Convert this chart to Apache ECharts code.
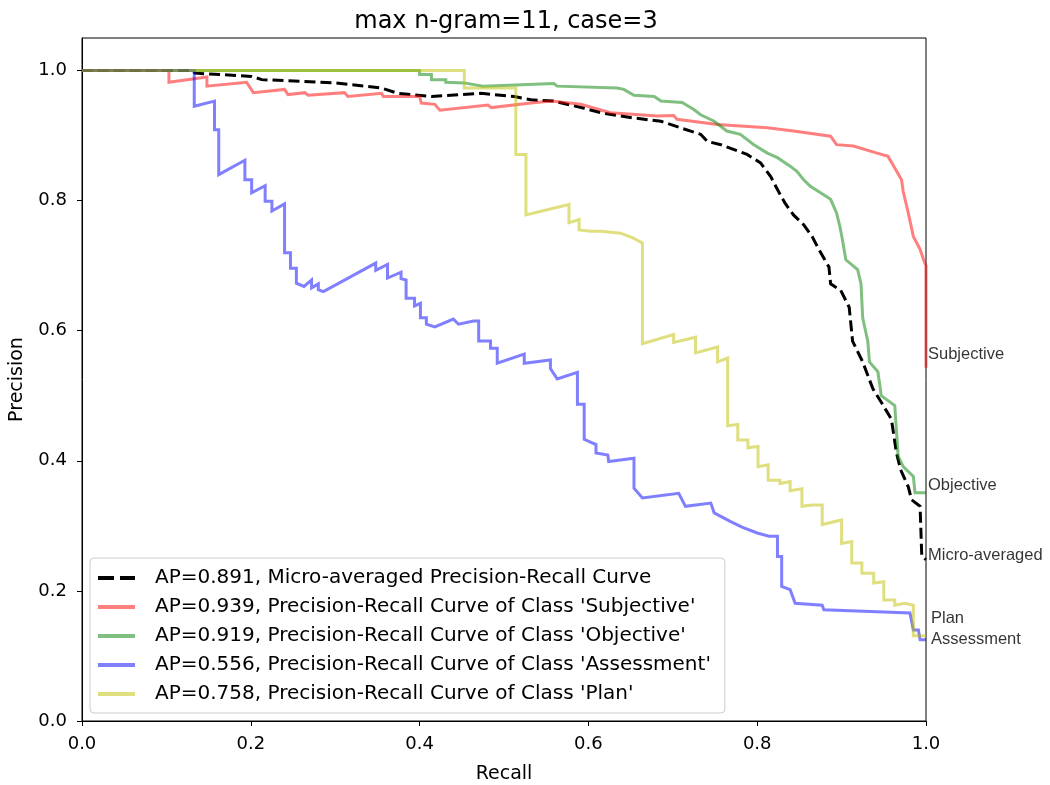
<!DOCTYPE html>
<html>
<head>
<meta charset="utf-8">
<title>max n-gram=11, case=3</title>
<script src="https://cdn.jsdelivr.net/npm/echarts@6/dist/echarts.min.js"></script>
<style>
  html, body { margin: 0; padding: 0; background: #fff; }
  #chart { width: 1050px; height: 785px; }
</style>
</head>
<body>
<div id="chart"></div>
<script>
// Precision-recall curves per class, plus the micro-averaged curve.
const titleText = 'max n-gram=11, case=3';
const tickValues = [0, 0.2, 0.4, 0.6, 0.8, 1.0];

const microRecall = [0, 0.130, 0.134, 0.201, 0.213, 0.299, 0.355, 0.374, 0.414, 0.473, 0.512, 0.532, 0.559, 0.595, 0.615, 0.654, 0.686, 0.709, 0.733, 0.741, 0.757, 0.788, 0.804, 0.816, 0.824, 0.833, 0.843, 0.855, 0.865, 0.873, 0.885, 0.887, 0.899, 0.909, 0.913, 0.925, 0.937, 0.947, 0.959, 0.965, 0.970, 0.979, 0.983, 0.993, 0.995, 1.0];
const microPrecision = [1.0, 1.0, 0.996, 0.991, 0.986, 0.981, 0.973, 0.965, 0.960, 0.965, 0.960, 0.955, 0.953, 0.942, 0.935, 0.927, 0.922, 0.912, 0.902, 0.891, 0.886, 0.871, 0.858, 0.837, 0.817, 0.796, 0.778, 0.763, 0.745, 0.725, 0.698, 0.672, 0.662, 0.636, 0.584, 0.552, 0.511, 0.490, 0.464, 0.412, 0.386, 0.360, 0.340, 0.330, 0.253, 0.248];

const subjectiveRecall = [0, 0.103, 0.103, 0.148, 0.148, 0.195, 0.203, 0.240, 0.244, 0.264, 0.268, 0.311, 0.315, 0.355, 0.357, 0.400, 0.402, 0.418, 0.424, 0.481, 0.485, 0.532, 0.556, 0.591, 0.626, 0.682, 0.701, 0.705, 0.753, 0.812, 0.843, 0.887, 0.894, 0.914, 0.942, 0.955, 0.963, 0.971, 0.973, 0.979, 0.985, 0.993, 0.998, 1.0, 1.0];
const subjectivePrecision = [1.0, 1.0, 0.982, 0.990, 0.976, 0.982, 0.966, 0.971, 0.963, 0.966, 0.962, 0.966, 0.960, 0.965, 0.960, 0.960, 0.950, 0.948, 0.939, 0.947, 0.943, 0.950, 0.953, 0.948, 0.935, 0.930, 0.931, 0.925, 0.917, 0.912, 0.907, 0.899, 0.886, 0.884, 0.873, 0.868, 0.850, 0.832, 0.814, 0.781, 0.745, 0.725, 0.706, 0.700, 0.543];

const objectiveRecall = [0, 0.400, 0.400, 0.414, 0.414, 0.431, 0.431, 0.453, 0.475, 0.559, 0.563, 0.634, 0.642, 0.654, 0.678, 0.686, 0.711, 0.725, 0.733, 0.749, 0.764, 0.780, 0.796, 0.812, 0.824, 0.839, 0.847, 0.855, 0.863, 0.875, 0.887, 0.894, 0.898, 0.901, 0.905, 0.919, 0.923, 0.925, 0.931, 0.933, 0.943, 0.947, 0.963, 0.967, 0.973, 0.985, 0.987, 1.0];
const objectivePrecision = [1.0, 1.0, 0.994, 0.994, 0.986, 0.986, 0.982, 0.981, 0.976, 0.980, 0.976, 0.973, 0.971, 0.962, 0.960, 0.953, 0.951, 0.940, 0.932, 0.922, 0.907, 0.902, 0.886, 0.873, 0.866, 0.853, 0.845, 0.832, 0.822, 0.812, 0.802, 0.781, 0.760, 0.740, 0.709, 0.694, 0.672, 0.620, 0.584, 0.552, 0.537, 0.500, 0.485, 0.407, 0.391, 0.376, 0.351, 0.351];

const assessmentRecall = [0, 0.133, 0.133, 0.157, 0.157, 0.162, 0.162, 0.193, 0.193, 0.201, 0.201, 0.217, 0.217, 0.225, 0.225, 0.240, 0.240, 0.247, 0.247, 0.254, 0.254, 0.263, 0.272, 0.272, 0.280, 0.280, 0.286, 0.348, 0.348, 0.362, 0.362, 0.378, 0.378, 0.384, 0.384, 0.394, 0.394, 0.401, 0.401, 0.408, 0.408, 0.418, 0.440, 0.446, 0.464, 0.470, 0.470, 0.484, 0.484, 0.492, 0.492, 0.524, 0.524, 0.555, 0.555, 0.563, 0.587, 0.587, 0.595, 0.595, 0.609, 0.609, 0.623, 0.624, 0.654, 0.654, 0.664, 0.707, 0.715, 0.745, 0.749, 0.768, 0.782, 0.800, 0.814, 0.824, 0.824, 0.829, 0.829, 0.839, 0.845, 0.877, 0.879, 0.981, 0.985, 0.991, 0.993, 1.0];
const assessmentPrecision = [1.0, 1.0, 0.945, 0.953, 0.909, 0.909, 0.840, 0.862, 0.832, 0.832, 0.812, 0.823, 0.799, 0.799, 0.784, 0.795, 0.720, 0.720, 0.696, 0.696, 0.673, 0.668, 0.678, 0.666, 0.672, 0.663, 0.660, 0.704, 0.693, 0.702, 0.681, 0.690, 0.680, 0.678, 0.650, 0.650, 0.638, 0.642, 0.620, 0.620, 0.610, 0.606, 0.618, 0.610, 0.615, 0.615, 0.584, 0.584, 0.573, 0.573, 0.550, 0.564, 0.550, 0.555, 0.542, 0.526, 0.536, 0.487, 0.487, 0.433, 0.425, 0.412, 0.409, 0.399, 0.404, 0.358, 0.343, 0.350, 0.330, 0.335, 0.320, 0.307, 0.298, 0.289, 0.284, 0.284, 0.253, 0.253, 0.207, 0.202, 0.181, 0.178, 0.171, 0.166, 0.140, 0.140, 0.125, 0.125];

const planRecall = [0, 0.453, 0.453, 0.514, 0.514, 0.526, 0.526, 0.577, 0.577, 0.589, 0.589, 0.603, 0.615, 0.638, 0.652, 0.664, 0.664, 0.701, 0.701, 0.727, 0.727, 0.753, 0.753, 0.765, 0.765, 0.777, 0.777, 0.789, 0.789, 0.801, 0.801, 0.813, 0.813, 0.827, 0.827, 0.839, 0.839, 0.853, 0.853, 0.865, 0.877, 0.877, 0.900, 0.900, 0.912, 0.912, 0.924, 0.924, 0.938, 0.938, 0.950, 0.950, 0.963, 0.963, 0.975, 0.985, 0.985, 1.0];
const planPrecision = [1.0, 1.0, 0.973, 0.973, 0.871, 0.871, 0.778, 0.794, 0.766, 0.771, 0.755, 0.753, 0.753, 0.750, 0.743, 0.735, 0.580, 0.594, 0.582, 0.590, 0.566, 0.575, 0.552, 0.558, 0.454, 0.456, 0.432, 0.432, 0.420, 0.422, 0.391, 0.394, 0.370, 0.370, 0.365, 0.368, 0.354, 0.357, 0.330, 0.332, 0.332, 0.302, 0.309, 0.273, 0.276, 0.243, 0.243, 0.227, 0.227, 0.212, 0.214, 0.186, 0.186, 0.178, 0.181, 0.178, 0.131, 0.131];

const legendNames = [
  "AP=0.891, Micro-averaged Precision-Recall Curve",
  "AP=0.939, Precision-Recall Curve of Class 'Subjective'",
  "AP=0.919, Precision-Recall Curve of Class 'Objective'",
  "AP=0.556, Precision-Recall Curve of Class 'Assessment'",
  "AP=0.758, Precision-Recall Curve of Class 'Plan'"
];

// Class names written just outside the right edge of the plot.
const endLabelNames = ['Subjective', 'Objective', 'Micro-averaged', 'Plan', 'Assessment'];
const endLabelRecall = [1.0, 1.0, 1.0, 1.0, 1.0];
const endLabelPrecision = [0.563, 0.362, 0.254, 0.157, 0.125];
const endLabelShift = [2, 2, 2, 5, 5];

function zip(xs, ys) {
  return xs.map((x, i) => [x, ys[i]]);
}

const baseFont = 'DejaVu Sans';
// Legend handles: two short dashes for the dashed curve, a plain bar for the others.
const dashIcon = 'path://M0,0H16V4H0Z M22,0H37V4H22Z';
const barIcon = 'path://M0,0H37V4H0Z';

function curve(name, xs, ys, color, dashed) {
  return {
    name: name,
    type: 'line',
    data: zip(xs, ys),
    showSymbol: false,
    symbol: 'none',
    animation: false,
    silent: true,
    lineStyle: { color: color, width: 3, type: dashed ? [11, 5] : 'solid', cap: 'butt', join: 'miter' },
    itemStyle: { color: color }
  };
}

const chart = echarts.init(document.getElementById('chart'), null, { renderer: 'canvas' });

chart.setOption({
  backgroundColor: '#ffffff',
  animation: false,
  title: {
    text: titleText,
    left: 501,
    top: 5,
    textAlign: 'center',
    textStyle: { fontFamily: baseFont, fontSize: 24, fontWeight: 'normal', color: '#000' }
  },
  grid: {
    left: 82, right: 124, top: 38, bottom: 64,
    containLabel: false,
    outerBoundsMode: 'none',
    show: true, borderColor: '#000', borderWidth: 1, backgroundColor: 'transparent'
  },
  legend: {
    orient: 'vertical',
    left: 90,
    top: 558,
    data: legendNames.map((n, i) => ({ name: n, icon: i === 0 ? dashIcon : barIcon })),
    itemWidth: 37,
    itemHeight: 4,
    itemGap: 9,
    padding: [10, 14, 9, 8],
    backgroundColor: 'rgba(255,255,255,0.8)',
    borderColor: '#cccccc',
    borderWidth: 1,
    borderRadius: 4,
    selectedMode: false,
    textStyle: { fontFamily: baseFont, fontSize: 20, color: '#000', padding: [0, 0, 0, 15] }
  },
  xAxis: {
    type: 'value',
    min: 0, max: 1, interval: 0.2,
    name: 'Recall',
    nameLocation: 'middle',
    nameGap: 44,
    nameTextStyle: { fontFamily: baseFont, fontSize: 19, color: '#000' },
    axisLine: { show: true, lineStyle: { color: '#000', width: 1 } },
    axisTick: { show: true, inside: false, length: 5, lineStyle: { color: '#000' } },
    axisLabel: { fontFamily: baseFont, fontSize: 18, color: '#000', margin: 14, formatter: v => v.toFixed(1) },
    splitLine: { show: false }
  },
  yAxis: {
    type: 'value',
    min: 0, max: 1.05,
    name: 'Precision',
    nameLocation: 'middle',
    nameGap: 55,
    nameTextStyle: { fontFamily: baseFont, fontSize: 19, color: '#000' },
    axisLine: { show: true, lineStyle: { color: '#000', width: 1 } },
    axisTick: { show: true, inside: false, length: 5, customValues: tickValues, lineStyle: { color: '#000' } },
    axisLabel: { fontFamily: baseFont, fontSize: 18, color: '#000', margin: 15, customValues: tickValues, formatter: v => v.toFixed(1) },
    splitLine: { show: false }
  },
  series: [
    curve(legendNames[0], microRecall, microPrecision, '#000000', true),
    curve(legendNames[1], subjectiveRecall, subjectivePrecision, 'rgba(255,0,0,0.5)', false),
    curve(legendNames[2], objectiveRecall, objectivePrecision, 'rgba(0,128,0,0.5)', false),
    curve(legendNames[3], assessmentRecall, assessmentPrecision, 'rgba(0,0,255,0.5)', false),
    curve(legendNames[4], planRecall, planPrecision, 'rgba(191,191,0,0.5)', false),
    {
      name: 'class-names',
      type: 'scatter',
      symbolSize: 0,
      silent: true,
      animation: false,
      clip: false,
      data: endLabelNames.map((n, i) => ({
        name: n,
        value: [endLabelRecall[i], endLabelPrecision[i]],
        label: { offset: [endLabelShift[i], 0] }
      })),
      label: {
        show: true,
        position: 'right',
        distance: 0,
        formatter: p => p.name,
        fontFamily: 'Liberation Sans',
        fontSize: 16.5,
        color: '#000'
      }
    }
  ]
});
</script>
</body>
</html>
